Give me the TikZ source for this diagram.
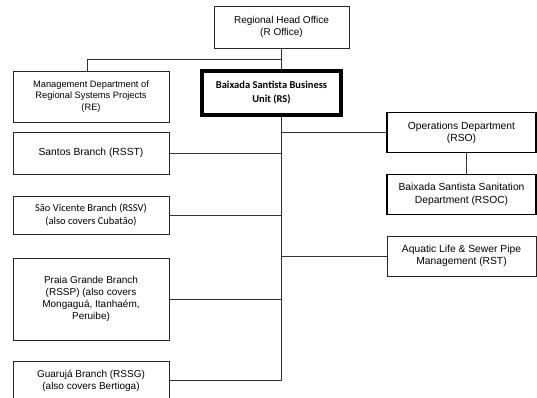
\documentclass[tikz,border=0pt]{standalone}
\usepackage{fontspec}
\setmainfont{Liberation Sans}
\newfontfamily\calfont{Carlito}
\usetikzlibrary{backgrounds}
\begin{document}
\begin{tikzpicture}[x=1pt,y=-1pt,
  box/.style={draw=black!85, fill=white, align=center, inner sep=1pt,
    line width=0.9pt, font=\fontsize{10}{12}\selectfont},
  lbox/.style={box, minimum width=156pt},
  rbox/.style={box, minimum width=149pt},
  conn/.style={draw=black!80, line width=0.9pt}]
\useasboundingbox (0,0) rectangle (537,398);
\clip (0,0) rectangle (537,398);
\node[box, minimum width=135pt, minimum height=42pt] (rho) at (281.5,27) {Regional Head Office\\(R Office)};
\node[lbox, minimum height=51pt, font=\fontsize{9.3}{11.7}\selectfont] (re) at (91,96.5) {Management Department of\\Regional Systems Projects\\(RE)};
\node[box, draw=black, line width=3.2pt, minimum width=139pt, minimum height=44pt, font=\calfont\bfseries\fontsize{10.5}{14}\selectfont] (rs) at (271.5,93) {Baixada Santista Business\\Unit (RS)};
\node[lbox, minimum height=42pt, font=\fontsize{10.3}{12}\selectfont] (santos) at (91,153) {Santos Branch (RSST)};
\node[lbox, minimum height=38pt, font=\calfont\fontsize{10.5}{13}\selectfont] (sv) at (91,215) {São Vicente Branch (RSSV)\\(also covers Cubatão)};
\node[lbox, minimum height=82pt] (praia) at (91,299) {Praia Grande Branch\\(RSSP) (also covers\\Mongaguá, Itanhaém,\\Peruibe)};
\node[lbox, minimum height=39pt] (gua) at (91,380.5) {Guarujá Branch (RSSG)\\(also covers Bertioga)};
\node[rbox, line width=1.7pt, draw=black, minimum height=40pt, font=\fontsize{10.3}{12}\selectfont] (ops) at (461.5,132.5) {Operations Department\\(RSO)};
\node[rbox, line width=1.8pt, draw=black, minimum height=40pt, font=\fontsize{10.3}{12.5}\selectfont] (rsoc) at (461.5,194.5) {Baixada Santista Sanitation\\Department (RSOC)};
\node[rbox, minimum height=40pt, font=\fontsize{10.3}{12.5}\selectfont] (rst) at (461.5,256) {Aquatic Life \& Sewer Pipe\\Management (RST)};
\coordinate (jre) at (281,59);
\begin{pgfonlayer}{background}
\draw[conn] (rho.south) -- (rho.south |- gua.east) -- (gua.east);
\draw[conn] (jre) -| ([xshift=-4pt]re.north);
\draw[conn] (santos.east) -- (santos.east -| rho.south);
\draw[conn] (sv.east) -- (sv.east -| rho.south);
\draw[conn] (praia.east) -- (praia.east -| rho.south);
\draw[conn] (ops.west) -- (ops.west -| rho.south);
\draw[conn] (rst.west) -- (rst.west -| rho.south);
\draw[conn] ([xshift=4.5pt]ops.south) -- ([xshift=4.5pt]rsoc.north);
\end{pgfonlayer}
\end{tikzpicture}
\end{document}
